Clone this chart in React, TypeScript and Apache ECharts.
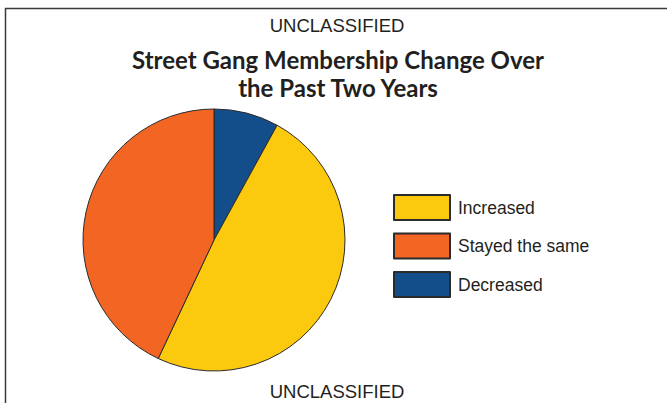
import React, { useEffect, useRef } from "react";
import * as echarts from "echarts";

const categories = ["Decreased", "Increased", "Stayed the same"];
const values = [8, 49, 43];
const colors = ["#134d8a", "#fbc90e", "#f26522"];
const legendOrder = ["Increased", "Stayed the same", "Decreased"];
const classification = "UNCLASSIFIED";
const titleText = "Street Gang Membership Change Over\nthe Past Two Years";

export default function App() {
  const ref = useRef<HTMLDivElement>(null);
  useEffect(() => {
    const chart = echarts.init(ref.current!, null, { renderer: "svg" });
    chart.setOption({
      animation: false,
      backgroundColor: "#ffffff",
      legend: {
        data: legendOrder,
        orient: "vertical",
        left: 388,
        top: 189,
        padding: 5,
        itemWidth: 56,
        itemHeight: 25,
        itemGap: 11.5,
        icon: "rect",
        textStyle: {
          fontFamily: "Liberation Sans, Arial, sans-serif",
          fontSize: 17.5,
          lineHeight: 20,
          color: "#231f20",
          padding: [0, 0, 0, 3],
        },
      },
      graphic: [
        {
          type: "rect",
          shape: { x: 5.5, y: 8.5, width: 700, height: 420 },
          style: { fill: "none", stroke: "#3a3a3a", lineWidth: 1.5 },
          z: 0,
        },
        {
          type: "text",
          x: 337,
          y: 25,
          style: {
            text: classification,
            align: "center",
            verticalAlign: "middle",
            fontFamily: "Liberation Sans, Arial, sans-serif",
            fontSize: 18.5,
            fill: "#231f20",
          },
        },
        {
          type: "text",
          x: 338,
          y: 73,
          style: {
            text: titleText,
            align: "center",
            verticalAlign: "middle",
            fontFamily: "Lato, sans-serif",
            fontWeight: "bold",
            fontSize: 24,
            lineHeight: 28,
            fill: "#231f20",
          },
        },
        {
          type: "text",
          x: 337,
          y: 391,
          style: {
            text: classification,
            align: "center",
            verticalAlign: "middle",
            fontFamily: "Liberation Sans, Arial, sans-serif",
            fontSize: 18.5,
            fill: "#231f20",
          },
        },
      ],
      series: [
        {
          type: "pie",
          center: [214, 240],
          radius: 131,
          startAngle: 90,
          clockwise: true,
          label: { show: false },
          labelLine: { show: false },
          emphasis: { disabled: true },
          itemStyle: { borderColor: "#2b2b2b", borderWidth: 1 },
          data: categories.map((name, i) => ({
            name,
            value: values[i],
            itemStyle: { color: colors[i] },
          })),
        },
      ],
    });
    return () => chart.dispose();
  }, []);
  return (
    <div
      ref={ref}
      style={{ position: "fixed", left: 0, top: 0, width: 667, height: 403 }}
    />
  );
}
